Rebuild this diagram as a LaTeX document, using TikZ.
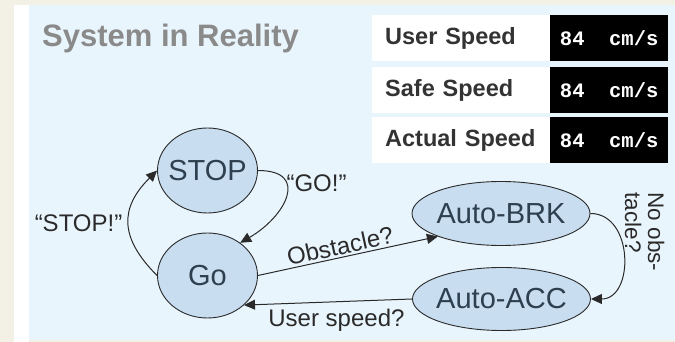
\documentclass[tikz,border=0pt]{standalone}
\usepackage{fontspec}
\setmainfont{Liberation Sans}
\setmonofont{Liberation Mono}
\usetikzlibrary{arrows.meta,shapes.geometric}
\definecolor{beige}{HTML}{F3F1E5}
\definecolor{panel}{HTML}{E9F5FD}
\definecolor{statefill}{HTML}{C8DEF0}
\definecolor{statetext}{HTML}{2E3F4F}
\definecolor{linec}{HTML}{2A2A2A}
\definecolor{labeltext}{HTML}{2A2A2A}
\definecolor{tabletext}{HTML}{333333}
\definecolor{titlegray}{HTML}{8A8A8A}
\newcommand{\zbox}[1]{\makebox[0pt]{#1}}
\begin{document}
\begin{tikzpicture}[x=1pt,y=1pt,
  state/.style={ellipse, draw=linec, line width=0.9pt, fill=statefill, text=statetext, inner sep=0pt, font=\fontsize{29}{34}\selectfont},
  conn/.style={draw=linec, line width=1pt, -{Triangle[length=11pt,width=10pt]}},
  elabel/.style={font=\fontsize{24}{24}\selectfont, text=labeltext, inner sep=2pt},
  lbl/.style={anchor=west, fill=white, minimum height=46pt, text width=152pt, inner xsep=13pt, inner ysep=0pt, align=left, font=\bfseries\fontsize{23.5}{27}\selectfont, text=tabletext},
  val/.style={anchor=west, fill=black, minimum width=118pt, minimum height=46pt, inner sep=0pt, text=white, font=\ttfamily\bfseries\fontsize{20.5}{24}\selectfont}
]
\useasboundingbox (0,0) rectangle (675,342);
\fill[beige] (0,0) rectangle (675,342);
\fill[white] (14,0) rectangle (29,337);
\fill[panel] (29,2) rectangle (675,337);

\node[anchor=west, text=titlegray, font=\bfseries\fontsize{31}{34}\selectfont, inner sep=0pt] (title) at (42,304) {System in Reality};

\node[lbl] (ul) at (372,303.5) {User Speed};
\node[val] (uv) at (550,303.5) {84~~cm/s};
\node[lbl] (sl) at (372,252) {Safe Speed};
\node[val] (sv) at (550,252) {84~~cm/s};
\node[lbl] (al) at (372,202) {Actual Speed};
\node[val] (av) at (550,202) {84~~cm/s};

\node[state, minimum width=100pt, minimum height=85pt] (stop) at (207.5,171.5) {\zbox{STOP}};
\node[state, minimum width=100pt, minimum height=85pt] (go) at (207.5,66.5) {\zbox{Go}};
\node[state, minimum width=178pt, minimum height=64pt] (brk) at (501,128.5) {\zbox{Auto-BRK}};
\node[state, minimum width=178pt, minimum height=63pt] (acc) at (501.5,43) {\zbox{Auto-ACC}};

\draw[conn] (go.west) to[out=135,in=225,looseness=1.3]
  node[elabel, midway, left=4pt] {“STOP!”} (stop.west);
\draw[conn] (stop.east) to[out=0,in=30,looseness=1.8]
  node[elabel, pos=0.35, anchor=west, xshift=-3pt, yshift=1pt] {“GO!”} (go.45);
\draw[conn] (go.east) -- node[elabel, sloped, above, pos=0.47] {Obstacle?} (brk.200);
\draw[conn] (brk.east) to[out=0,in=0,looseness=1.3]
  node[elabel, font=\fontsize{22.5}{23}\selectfont, pos=0.3, anchor=south, rotate=-90, align=left, inner sep=2pt, outer sep=5pt] {No obs-\\tacle?} (acc.east);
\draw[conn] (acc.west) -- node[elabel, below=5pt, pos=0.45] {User speed?} (go.-39);
\end{tikzpicture}
\end{document}
